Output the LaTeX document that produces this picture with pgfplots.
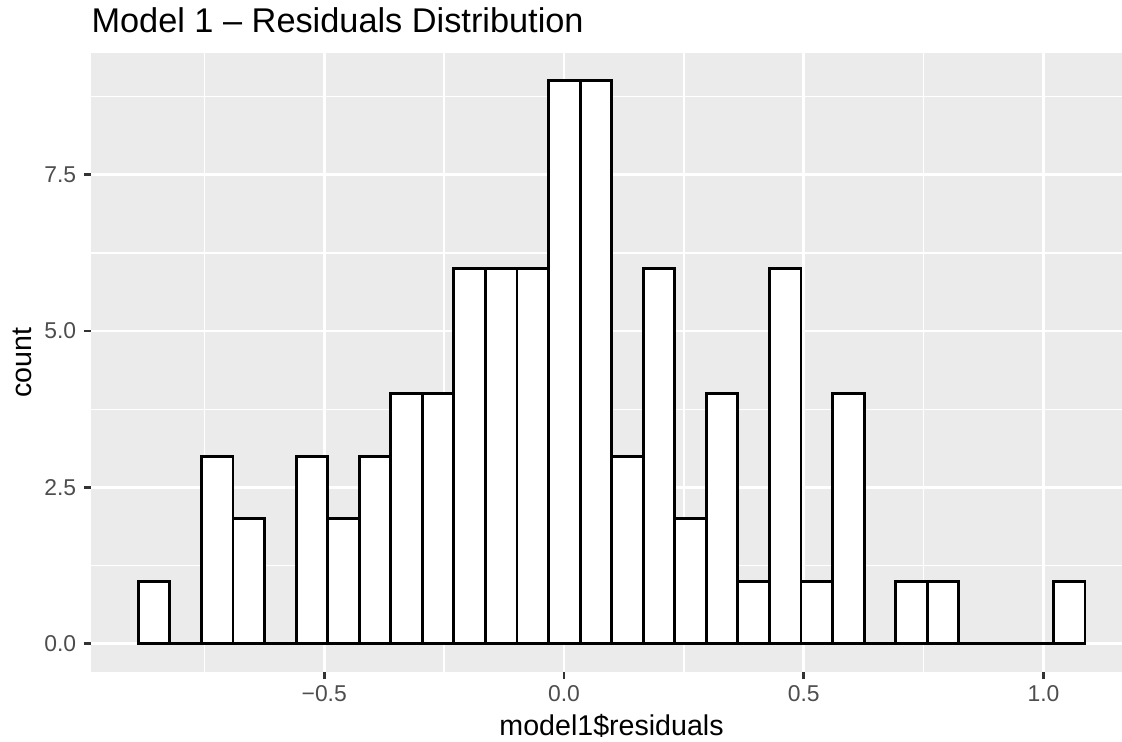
\documentclass[border=0pt]{standalone}
\usepackage{pgfplots}
\pgfplotsset{compat=1.18}
\usepackage{fontspec}
\setmainfont{Liberation Sans}
\definecolor{ggbg}{HTML}{EBEBEB}
\definecolor{ggtick}{HTML}{333333}
\definecolor{gglab}{HTML}{4D4D4D}
\begin{document}
\begin{tikzpicture}
\begin{axis}[
  at={(35pt,26.92pt)}, anchor=south west,
  scale only axis, width=396.54pt, height=238.2pt,
  xmin=-0.9864, xmax=1.1637, ymin=-0.45, ymax=9.45,
  axis line style={draw=none},
  axis background/.style={fill=ggbg},
  xtick={-0.5,0,0.5,1}, xticklabels={−0.5,0.0,0.5,1.0},
  ytick={0,2.5,5,7.5}, yticklabels={0.0,2.5,5.0,7.5},
  minor xtick={-0.75,-0.25,0.25,0.75},
  minor ytick={1.25,3.75,6.25,8.75},
  minor tick length=0pt,
  major tick length=2.75pt,
  tick align=outside, tick pos=left,
  tick style={ggtick, line width=1.1pt},
  grid=both,
  major grid style={white, line width=1.1pt},
  minor grid style={white, line width=0.55pt},
  xticklabel style={font=\fontsize{8.8}{10}\selectfont, text=gglab, anchor=base, inner sep=0pt, yshift=-8.75pt},
  yticklabel style={font=\fontsize{8.8}{10}\selectfont, text=gglab, anchor=east, inner sep=0pt, xshift=-2.75pt},
  title={Model 1 – Residuals Distribution},
  every axis title/.style={at={(axis description cs:0,1.033)}, anchor=base west, font=\fontsize{13.2}{15}\selectfont, inner sep=0pt},
  xlabel={model1\$residuals},
  xlabel style={at={(axis description cs:0.5049,-0.1033)}, anchor=base, font=\fontsize{11}{13}\selectfont, inner sep=0pt},
  ylabel={count},
  ylabel style={at={(axis description cs:-0.0575,0.5)}, anchor=base, font=\fontsize{11}{13}\selectfont, inner sep=0pt},
]
\addplot[ybar interval, fill=white, draw=black, line width=1.1pt] coordinates {
(-0.8878,1) (-0.8220,0) (-0.7562,3) (-0.6904,2) (-0.6245,0)
(-0.5587,3) (-0.4929,2) (-0.4271,3) (-0.3613,4) (-0.2955,4)
(-0.2297,6) (-0.1639,6) (-0.0981,6) (-0.0323,9) (0.0336,9)
(0.0994,3) (0.1652,6) (0.2310,2) (0.2968,4) (0.3626,1)
(0.4284,6) (0.4942,1) (0.5600,4) (0.6258,0) (0.6916,1)
(0.7575,1) (0.8233,0) (0.8891,0) (0.9549,0) (1.0207,1)
(1.0865,1)
};
\end{axis}
\pgfresetboundingbox
\useasboundingbox (0,0) rectangle (431.54pt,285.38pt);
\end{tikzpicture}
\end{document}
